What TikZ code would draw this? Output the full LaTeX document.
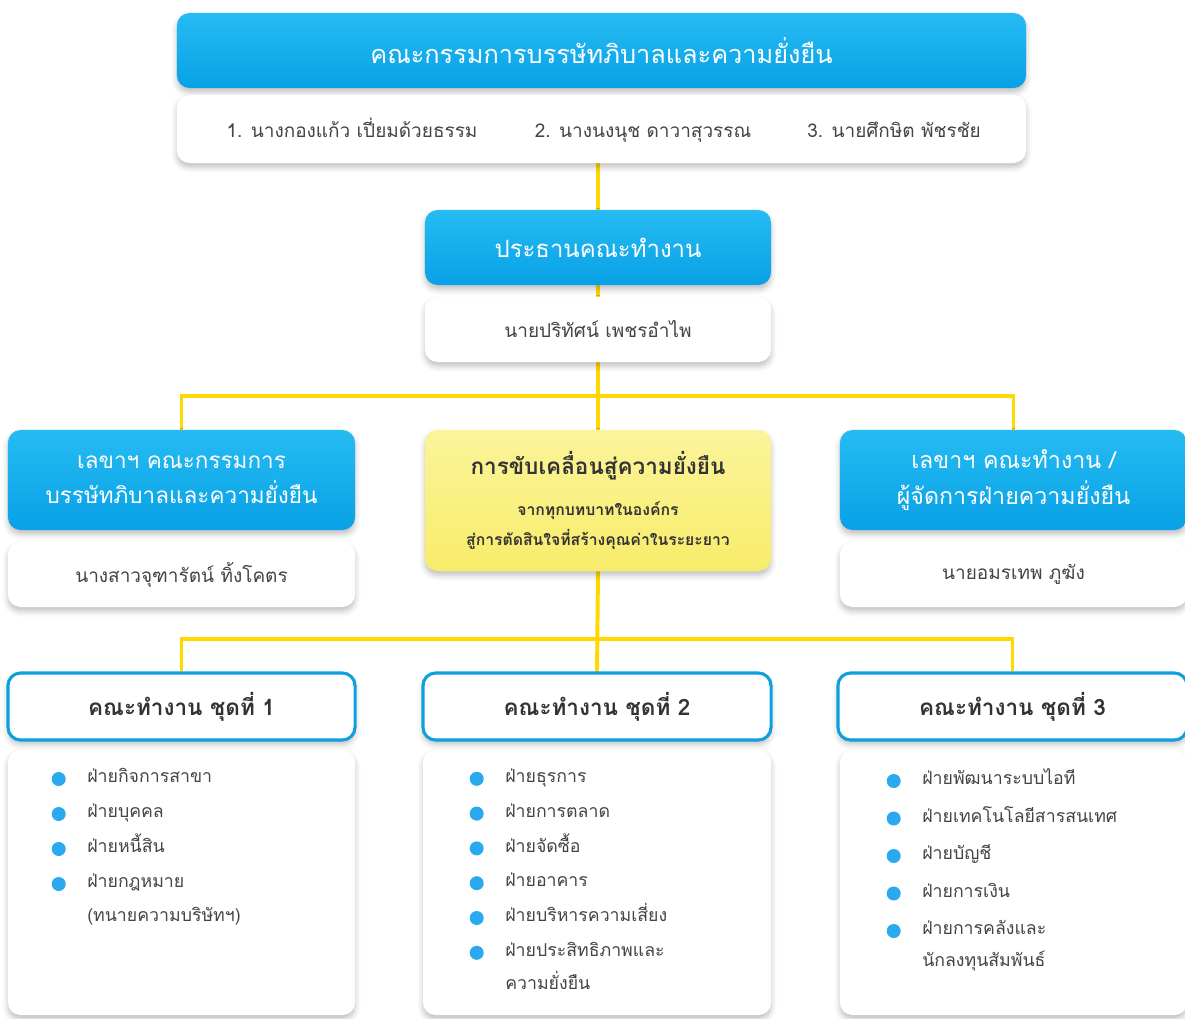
\documentclass[tikz,border=0pt]{standalone}
\usepackage{fontspec}
\setmainfont[Script=Thai]{Loma}
\usepackage{xcolor}
\usetikzlibrary{calc, shadows.blur, backgrounds}

\definecolor{SkyTop}{HTML}{26BBF3}
\definecolor{SkyBot}{HTML}{08A1E6}
\definecolor{RimBlue}{HTML}{0E9FDD}
\definecolor{LinkGold}{HTML}{FFD800}
\definecolor{CoreTop}{HTML}{FBF49A}
\definecolor{CoreBot}{HTML}{F8EC6A}
\definecolor{InkGray}{HTML}{333333}
\definecolor{NameGray}{HTML}{444444}
\definecolor{DotBlue}{HTML}{2AA9EE}

\tikzset{
  box/.style={rounded corners=9pt, align=center, inner sep=0pt,
    blur shadow={shadow xshift=0pt, shadow yshift=-3pt, shadow blur radius=4pt, shadow opacity=25}},
  skybox/.style={box, top color=SkyTop, bottom color=SkyBot, text=white, font=\fontsize{17}{25}\selectfont},
  namebox/.style={box, fill=white, text=NameGray, font=\fontsize{13.5}{16}\selectfont},
  corebox/.style={box, top color=CoreTop, bottom color=CoreBot, text=InkGray, font=\bfseries\fontsize{11.2}{21}\selectfont},
  headbox/.style={box, fill=white, draw=RimBlue, line width=2.2pt, text=InkGray, font=\bfseries\fontsize{16}{20}\selectfont},
  listbox/.style={box, fill=white},
  nametext/.style={inner sep=0pt, text height=1ex, text depth=0pt, text=NameGray, font=\fontsize{13.5}{16}\selectfont},
  dot/.style={circle, fill=DotBlue, minimum size=0.35cm, inner sep=0pt, label distance=0.525cm},
  item/.style={anchor=west, inner sep=0pt, text height=1ex, text depth=0pt, text=NameGray, font=\fontsize{12.6}{16}\selectfont},
  bulleted/.style={label={[dot]left:{}}},
  link/.style={LinkGold, line width=2.8pt},
}

\begin{document}
\begin{tikzpicture}[x=0.025cm, y=-0.025cm]
  \useasboundingbox (0,0) rectangle (1185,1019);

  % board
  \node[skybox, font=\fontsize{18}{25}\selectfont, minimum width=21.225cm, minimum height=1.875cm] (board) at (601.5,50.5) {คณะกรรมการบรรษัทภิบาลและความยั่งยืน};
  \node[namebox, minimum width=21.225cm, minimum height=1.7cm] (boardnames) at (601.5,129) {};
  \node[nametext] (bm1) at (352,134) {1. นางกองแก้ว เปี่ยมด้วยธรรม};
  \node[nametext] (bm2) at (643,134) {2. นางนงนุช ดาวาสุวรรณ};
  \node[nametext] (bm3) at (894,134) {3. นายศึกษิต พัชรชัย};

  % chair
  \node[skybox, minimum width=8.65cm, minimum height=1.875cm] (chair) at (598,247.5) {ประธานคณะทำงาน};
  \node[namebox, minimum width=8.65cm, minimum height=1.625cm] (chairname) at (598,329.5) {นายปริทัศน์ เพชรอำไพ};

  % secretaries and core
  \node[skybox, font=\fontsize{16}{25}\selectfont, minimum width=8.675cm, minimum height=2.5cm] (lsec) at (181.5,480) {เลขาฯ คณะกรรมการ\\บรรษัทภิบาลและความยั่งยืน};
  \node[namebox, minimum width=8.675cm, minimum height=1.625cm] (lsecname) at (181.5,574.5) {นางสาวจุฑารัตน์ ทิ้งโคตร};
  \node[corebox, minimum width=8.65cm, minimum height=3.525cm] (core) at (598,500.5)
    {{\fontsize{16}{24}\selectfont การขับเคลื่อนสู่ความยั่งยืน}\\[8pt]
     จากทุกบทบาทในองค์กร\\สู่การตัดสินใจที่สร้างคุณค่าในระยะยาว};
  \node[skybox, font=\fontsize{16.5}{25}\selectfont, minimum width=8.675cm, minimum height=2.5cm] (rsec) at (1013.5,480) {เลขาฯ คณะทำงาน /\\ผู้จัดการฝ่ายความยั่งยืน};
  \node[namebox, minimum width=8.675cm, minimum height=1.625cm] (rsecname) at (1013.5,574.5) {นายอมรเทพ ภูฆัง};

  % teams
  \node[headbox, minimum width=8.675cm, minimum height=1.675cm] (team1) at (181.5,706.5) {คณะทำงาน ชุดที่ 1};
  \node[headbox, minimum width=8.7cm, minimum height=1.675cm] (team2) at (597,706.5) {คณะทำงาน ชุดที่ 2};
  \node[headbox, minimum width=8.725cm, minimum height=1.675cm] (team3) at (1012.5,706.5) {คณะทำงาน ชุดที่ 3};
  \node[listbox, minimum width=8.675cm, minimum height=6.625cm] (list1) at (181.5,882.5) {};
  \node[listbox, minimum width=8.7cm, minimum height=6.625cm] (list2) at (597,882.5) {};
  \node[listbox, minimum width=8.675cm, minimum height=6.625cm] (list3) at (1013.5,882.5) {};

  \foreach \txt [count=\i] in {ฝ่ายกิจการสาขา, ฝ่ายบุคคล, ฝ่ายหนี้สิน, ฝ่ายกฎหมาย}
    \node[item, bulleted] (ta\i) at (87,744+35*\i) {\txt};
  \node[item] (ta5) at (87,918) {(ทนายความบริษัทฯ)};

  \foreach \txt [count=\i] in {ฝ่ายธุรการ, ฝ่ายการตลาด, ฝ่ายจัดซื้อ, ฝ่ายอาคาร, ฝ่ายบริหารความเสี่ยง, ฝ่ายประสิทธิภาพและ}
    \node[item, bulleted] (tb\i) at (505,744+34.8*\i) {\txt};
  \node[item] (tb7) at (505,986) {ความยั่งยืน};

  \foreach \txt [count=\i] in {ฝ่ายพัฒนาระบบไอที, ฝ่ายเทคโนโลยีสารสนเทศ, ฝ่ายบัญชี, ฝ่ายการเงิน, ฝ่ายการคลังและ}
    \node[item, bulleted] (tc\i) at (922,743.5+37.5*\i) {\txt};
  \node[item] (tc6) at (922,963) {นักลงทุนสัมพันธ์};

  % connectors
  \begin{scope}[on background layer]
    \coordinate (fork1) at ($(chairname.south)!0.5!(core.north)$);
    \coordinate (fork2) at ($(core.south)!0.68!(team2.north)$);
    \draw[link] (chair.north |- boardnames.south) -- (core.north);
    \draw[link] (lsec.north) |- (fork1) -| (rsec.north);
    \draw[link] (core.south) -- (team2.north);
    \draw[link] (team1.north) |- (fork2) -| (team3.north);
  \end{scope}
\end{tikzpicture}
\end{document}
